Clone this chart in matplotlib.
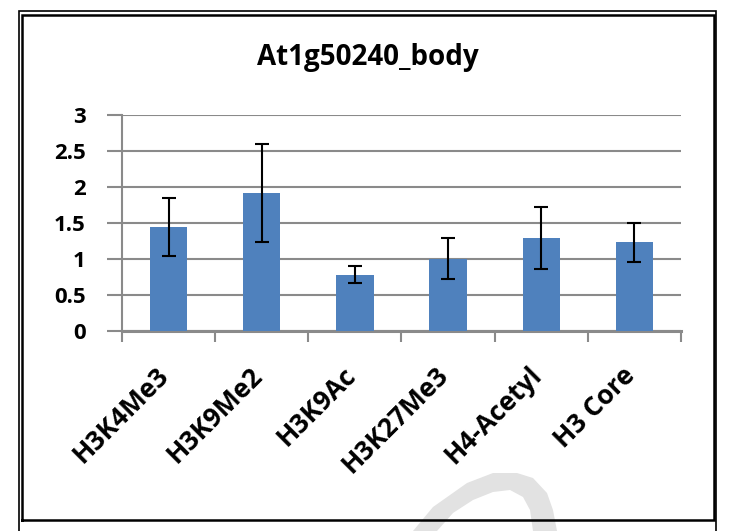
import matplotlib
matplotlib.use("Agg")
import matplotlib.pyplot as plt
import matplotlib.transforms as mtransforms
from matplotlib.lines import Line2D
from matplotlib.patches import Polygon
import numpy as np

title = "At1g50240_body"
categories = ["H3K4Me3", "H3K9Me2", "H3K9Ac", "H3K27Me3", "H4-Acetyl", "H3 Core"]
values = [1.44, 1.91, 0.78, 1.00, 1.29, 1.23]
errors = [0.40, 0.68, 0.115, 0.285, 0.435, 0.27]
yticks = [0, 0.5, 1, 1.5, 2, 2.5, 3]
ytick_labels = ["0", "0.5", "1", "1.5", "2", "2.5", "3"]

W, H = 730, 531
plt.rcParams['font.family'] = ['Open Sans', 'DejaVu Sans']
fig = plt.figure(figsize=(W / 100, H / 100), dpi=100)
fig.patch.set_facecolor('white')

def fx(px):
    return px / W

def fy(py):
    return 1 - py / H

ax_left, ax_right, ax_top, ax_bot = 122, 681, 114.7, 331
ax = fig.add_axes([fx(ax_left), fy(ax_bot), fx(ax_right - ax_left), (ax_bot - ax_top) / H])

grid_c = '#8a8a8a'
x = np.arange(len(categories))
ax.bar(x, values, width=0.4, color='#4F81BD', zorder=3)
ax.errorbar(x, values, yerr=errors, fmt='none', ecolor='black', elinewidth=1.5,
            capsize=5, capthick=1.5, zorder=4)

ax.set_xlim(-0.5, len(categories) - 0.5)
ax.set_ylim(0, 3)
ax.set_yticks(yticks)
ax.set_yticklabels(ytick_labels, fontsize=16, fontweight='bold')
ax.yaxis.grid(True, color=grid_c, linewidth=1.5, zorder=0)
ax.set_axisbelow(True)

ax.set_xticks(np.arange(-0.5, len(categories), 1.0))
ax.set_xticklabels([])
ax.set_xticks(x, minor=True)
ax.set_xticklabels(categories, minor=True, rotation=45, ha='right', va='top',
                   rotation_mode='anchor', fontsize=19, fontweight='bold')
ax.tick_params(axis='x', which='major', length=8, width=1.5, color=grid_c, direction='out')
ax.tick_params(axis='x', which='minor', length=0, pad=22)
ax.tick_params(axis='y', length=11, width=1.5, color=grid_c, direction='out', pad=15)

offset = mtransforms.ScaledTranslation(-0.13, 0, fig.dpi_scale_trans)
for lbl in ax.get_xticklabels(minor=True):
    lbl.set_transform(lbl.get_transform() + offset)

for s in ['top', 'right']:
    ax.spines[s].set_visible(False)
ax.spines['left'].set_color(grid_c)
ax.spines['left'].set_linewidth(1.5)
ax.spines['bottom'].set_color(grid_c)
ax.spines['bottom'].set_linewidth(2.2)

fig.text(fx(368), fy(57), title, ha='center', va='center', fontsize=20, fontweight='bold')

# decorative watermark arc (outside the plot)
outer = [(413, 531), (433, 507), (467, 483), (493, 473), (517, 473), (533, 478),
         (547, 493), (553, 510), (557, 531)]
inner = [(533, 531), (530, 510), (523, 497), (510, 490), (493, 492), (473, 500),
         (453, 513), (437, 531)]
pts = [(fx(a), fy(b)) for a, b in outer + inner]
fig.add_artist(Polygon(pts, closed=True, transform=fig.transFigure, facecolor='#e2e2e2',
                       edgecolor='none', zorder=0))

# double frame
def frame_line(xs, ys, lw):
    fig.add_artist(Line2D([fx(v) for v in xs], [fy(v) for v in ys], color='black',
                          linewidth=lw, transform=fig.transFigure, solid_joinstyle='miter'))

frame_line([18.5, 18.5, 716, 716], [531, 11, 11, 531], 1.2)
frame_line([22, 22, 713.5, 713.5, 22], [519.5, 15, 15, 519.5, 519.5], 1.8)

fig.savefig('out.png', dpi=100, facecolor='white')
